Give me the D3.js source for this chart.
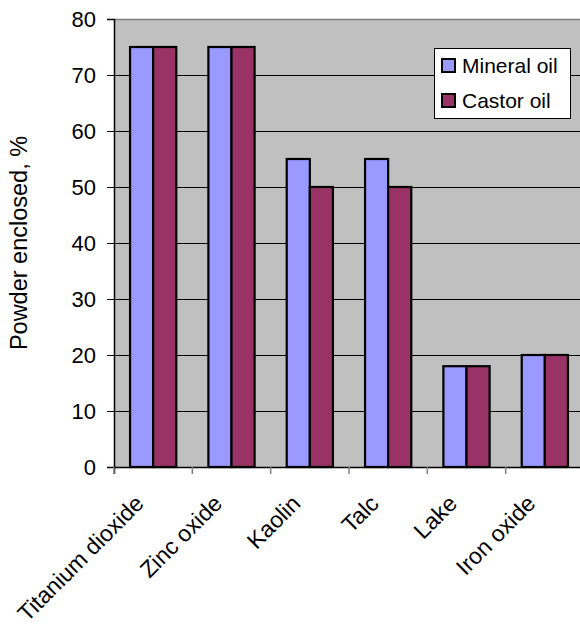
<!DOCTYPE html>
<html>
<head>
<meta charset="utf-8">
<script src="https://cdn.jsdelivr.net/npm/d3@7"></script>
<style>
  html, body { margin: 0; padding: 0; background: #fff; }
  svg { display: block; font-family: Arial, "Liberation Sans", sans-serif; }
</style>
</head>
<body>
<svg id="chart" width="580" height="628"></svg>
<script>
const categories = ["Titanium dioxide", "Zinc oxide", "Kaolin", "Talc", "Lake", "Iron oxide"];
const seriesNames = ["Mineral oil", "Castor oil"];
const mineralOil = [75, 75, 55, 55, 18, 20];
const castorOil = [75, 75, 50, 50, 18, 20];
const yTicks = [0, 10, 20, 30, 40, 50, 60, 70, 80];
const colors = ["#9999FF", "#993366"];
const yTitle = "Powder enclosed, %";

const svg = d3.select("#chart");
const pLeft = 114, pRight = 584, pTop = 19, pBottom = 467;

const x = d3.scaleBand().domain(categories).range([pLeft, pRight]).paddingInner(0.41).paddingOuter(0.205);
const xStep = d3.scaleBand().domain(categories).range([pLeft, pRight]);
const xSub = d3.scaleBand().domain(seriesNames).range([0, x.bandwidth()]);
const y = d3.scaleLinear().domain([0, 80]).range([pBottom, pTop]);

// plot background
svg.append("rect").attr("x", pLeft).attr("y", pTop).attr("width", pRight - pLeft).attr("height", pBottom - pTop)
  .attr("fill", "#C0C0C0");
// top border
svg.append("line").attr("x1", pLeft).attr("x2", pRight).attr("y1", pTop + 0.5).attr("y2", pTop + 0.5)
  .attr("stroke", "#808080").attr("stroke-width", 1.5);

// gridlines
svg.append("g").selectAll("line").data(yTicks.filter(d => d > 0 && d < 80)).join("line")
  .attr("x1", pLeft).attr("x2", pRight)
  .attr("y1", d => Math.round(y(d)) + 0.5).attr("y2", d => Math.round(y(d)) + 0.5)
  .attr("stroke", "#000").attr("stroke-width", 1);

// bars
const data = categories.map((c, i) => ({ cat: c, vals: [mineralOil[i], castorOil[i]] }));
const groups = svg.append("g").selectAll("g").data(data).join("g")
  .attr("transform", d => `translate(${x(d.cat)},0)`);
groups.selectAll("rect").data(d => d.vals.map((v, j) => ({ v, s: seriesNames[j], j }))).join("rect")
  .attr("x", d => xSub(d.s))
  .attr("y", d => y(d.v))
  .attr("width", xSub.bandwidth())
  .attr("height", d => y(0) - y(d.v))
  .attr("fill", d => colors[d.j])
  .attr("stroke", "#000").attr("stroke-width", 2.2);

// y axis
const yAxis = d3.axisLeft(y).tickValues(yTicks).tickSize(7).tickPadding(11).tickFormat(d3.format("d"));
const gy = svg.append("g").attr("transform", `translate(${pLeft},0)`).call(yAxis);
gy.select(".domain").attr("stroke", "#000").attr("stroke-width", 1.5);
gy.selectAll(".tick line").attr("stroke", "#000");
gy.selectAll("text").attr("font-size", 22).attr("fill", "#000")
  .attr("font-family", "Arial, 'Liberation Sans', sans-serif");

// x axis
const xAxis = d3.axisBottom(xStep).tickSize(7).tickFormat("");
const gx = svg.append("g").attr("transform", `translate(0,${pBottom})`).call(xAxis);
gx.select(".domain").attr("stroke", "#000").attr("stroke-width", 1.5);
gx.selectAll(".tick").remove();
const bounds = categories.map(c => xStep(c)).concat([pRight]);
gx.append("g").selectAll("line").data(bounds).join("line")
  .attr("x1", d => d).attr("x2", d => d).attr("y1", 0).attr("y2", 7)
  .attr("stroke", "#808080").attr("stroke-width", 1.5);

// x labels
svg.append("g").selectAll("text").data(categories).join("text")
  .attr("transform", d => `translate(${xStep(d) + xStep.bandwidth() / 2 - 8},${pBottom + 38}) rotate(-45)`)
  .attr("text-anchor", "end")
  .attr("font-size", 23)
  .attr("fill", "#000")
  .text(d => d);

// y title
svg.append("text")
  .attr("transform", `translate(27,${(pTop + pBottom) / 2}) rotate(-90)`)
  .attr("text-anchor", "middle")
  .attr("font-size", 23.5)
  .attr("fill", "#000")
  .text(yTitle);

// legend
const lg = svg.append("g").attr("transform", "translate(434,48)");
lg.append("rect").attr("x", 0.5).attr("y", 0.5).attr("width", 136).attr("height", 70)
  .attr("fill", "#fff").attr("stroke", "#000").attr("stroke-width", 1);
const items = lg.selectAll("g.item").data(seriesNames).join("g").attr("class", "item")
  .attr("transform", (d, i) => `translate(0,${10 + i * 35})`);
items.append("rect").attr("x", 8).attr("y", 1).attr("width", 13).attr("height", 13)
  .attr("fill", (d, i) => colors[i]).attr("stroke", "#000").attr("stroke-width", 2);
items.append("text").attr("x", 28).attr("y", 15).attr("font-size", 21).attr("fill", "#000").text(d => d);
</script>
</body>
</html>
